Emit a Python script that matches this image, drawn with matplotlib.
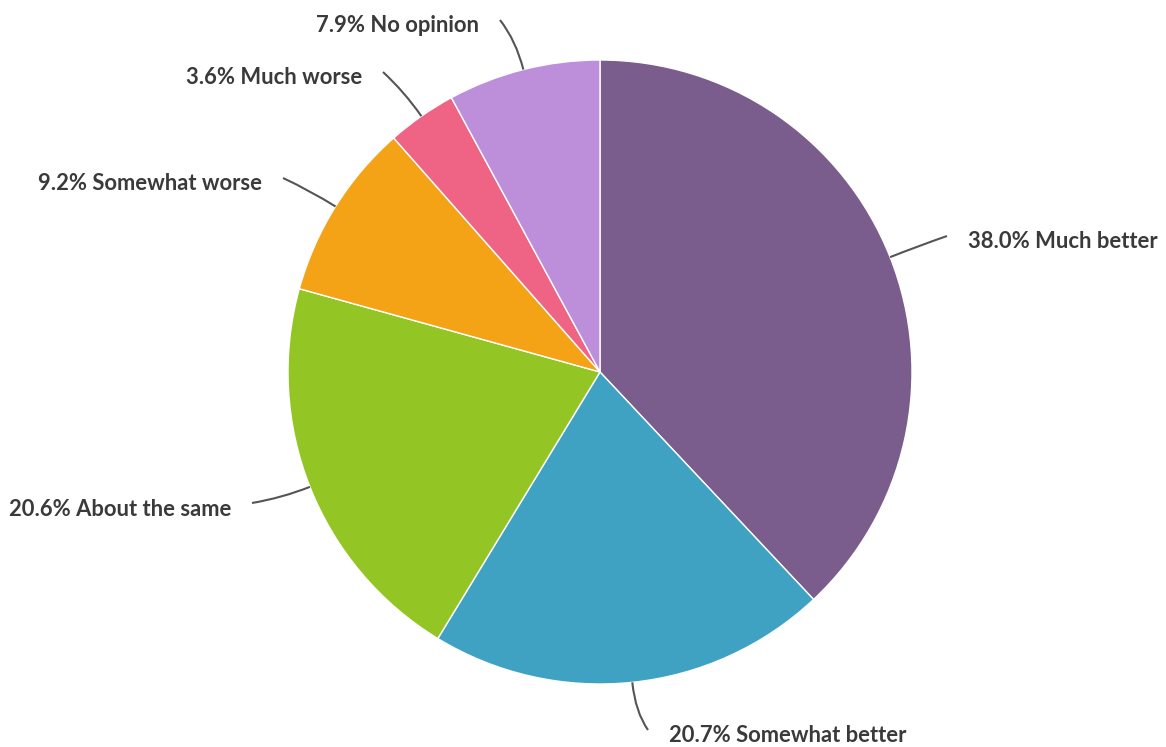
import numpy as np
import matplotlib
matplotlib.use("Agg")
import matplotlib.pyplot as plt
from matplotlib.path import Path
from matplotlib.patches import PathPatch

# ---- data ----
categories = ["Much better", "Somewhat better", "About the same",
              "Somewhat worse", "Much worse", "No opinion"]
values = [38.0, 20.7, 20.6, 9.2, 3.6, 7.9]
colors = ["#7b5d8d", "#3fa2c3", "#93c525", "#f4a316", "#ef6384", "#bd8fda"]

# ---- layout (pixel coords, y from top): end of each leader line ----
leader_ends = [(947, 236), (648, 730), (252, 503), (283, 178), (383, 72), (500, 20)]
label_side = ["right", "right", "left", "left", "left", "left"]

W, H = 1166, 747
fig = plt.figure(figsize=(W / 100, H / 100), dpi=100)
ax = fig.add_axes([0, 0, 1, 1])

cx, cy_pix, R = 600, 372, 312
cy = H - cy_pix

wedges, _ = ax.pie(values, colors=colors, startangle=90, counterclock=False,
                   radius=R, center=(cx, cy),
                   wedgeprops=dict(edgecolor="white", linewidth=1.0))

ax.set_xlim(0, W)
ax.set_ylim(0, H)
ax.set_aspect("equal")
ax.axis("off")

for w, cat, val, (ex, ey_pix), side in zip(wedges, categories, values, leader_ends, label_side):
    mid = np.deg2rad((w.theta1 + w.theta2) / 2)
    sx, sy = cx + R * np.cos(mid), cy + R * np.sin(mid)
    kx, ky = cx + (R + 30) * np.cos(mid), cy + (R + 30) * np.sin(mid)
    ey = H - ey_pix
    path = Path([(sx, sy), (kx, ky), (ex, ey)], [Path.MOVETO, Path.CURVE3, Path.CURVE3])
    ax.add_patch(PathPatch(path, facecolor="none", edgecolor="#555555", lw=1.5))
    txt = f"{val:.1f}% {cat}"
    if side == "right":
        ax.text(ex + 21, ey - 6, txt, ha="left", va="center", fontsize=15.8,
                family="Lato", fontweight="bold", color="#3a3a3a")
    else:
        ax.text(ex - 21, ey - 6, txt, ha="right", va="center", fontsize=15.8,
                family="Lato", fontweight="bold", color="#3a3a3a")

fig.savefig("out.png", dpi=100, facecolor="white")
